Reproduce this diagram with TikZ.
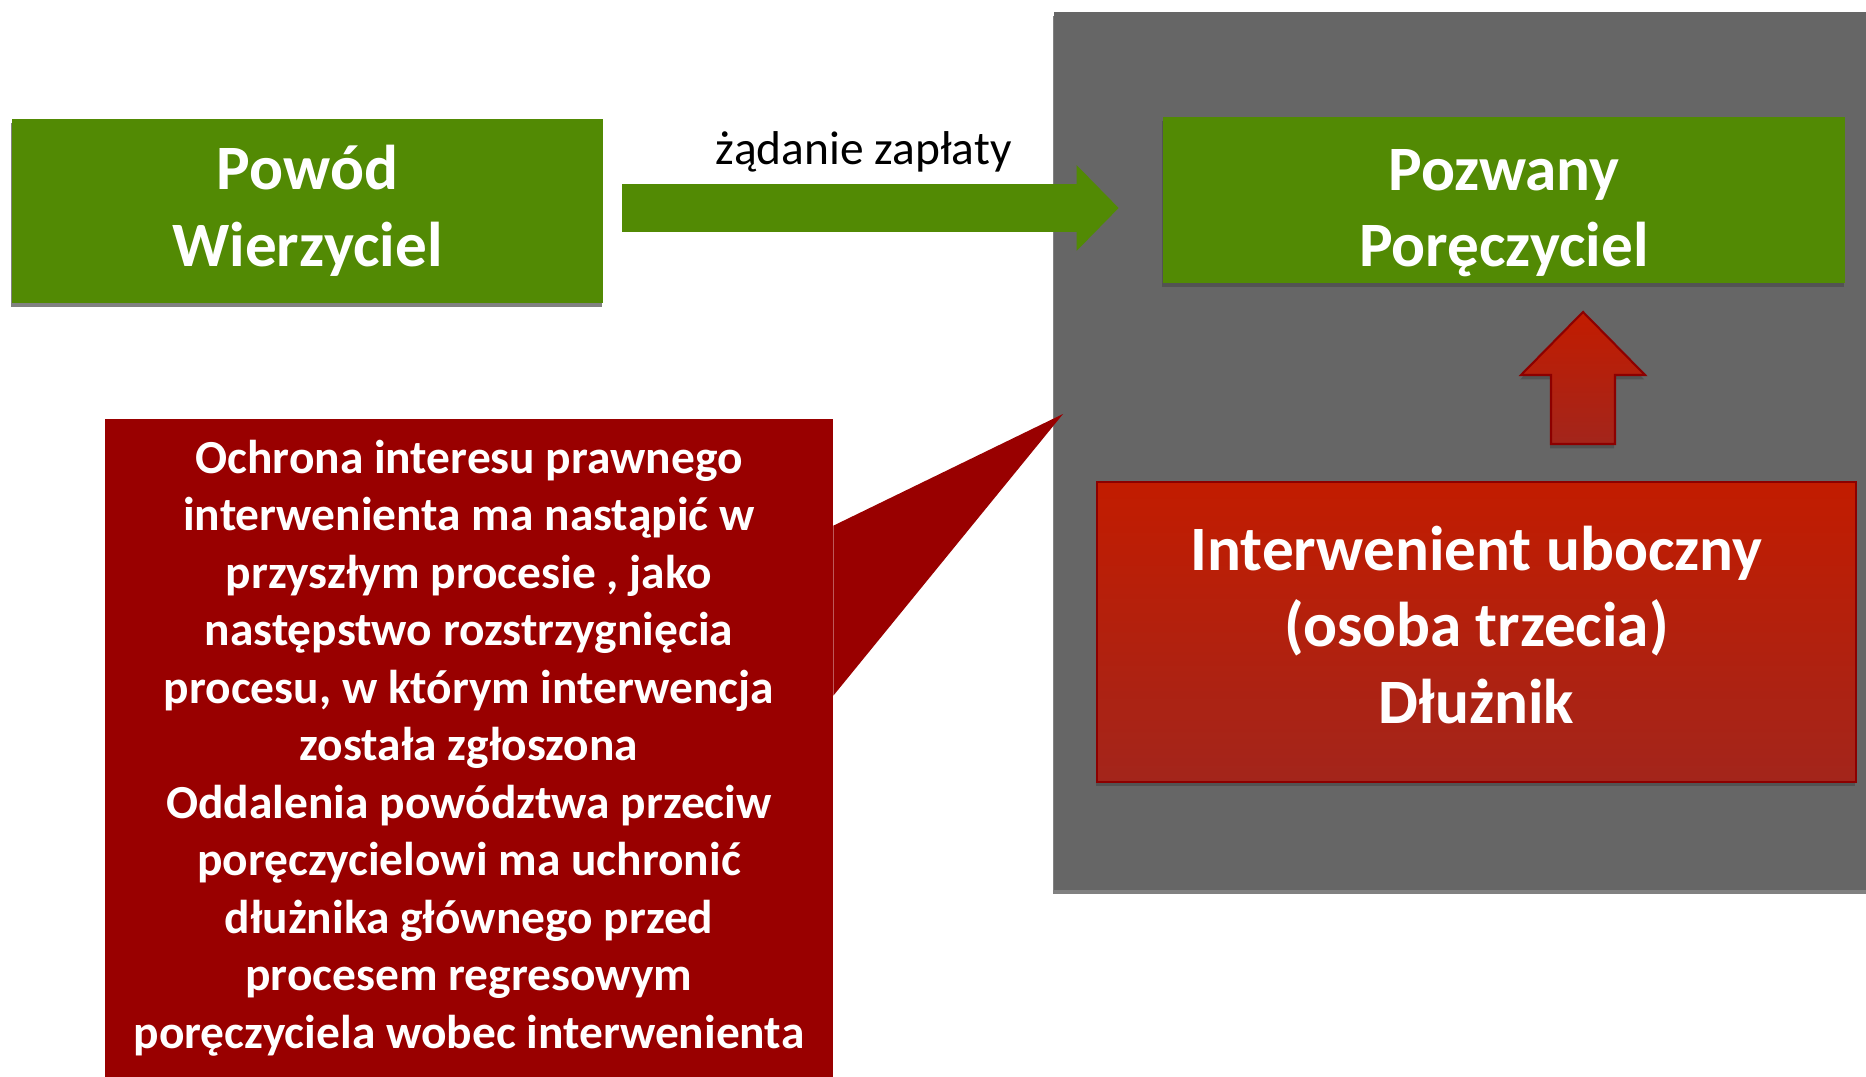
\documentclass[tikz,border=0pt]{standalone}
\usepackage{fontspec}
\setmainfont{Carlito}
\usetikzlibrary{arrows.meta,positioning,calc,shadows}
\definecolor{boxgreen}{RGB}{82,138,4}
\definecolor{panelgray}{RGB}{102,102,102}
\definecolor{notered}{RGB}{153,0,0}
\definecolor{redtop}{RGB}{194,28,0}
\definecolor{redbot}{RGB}{163,37,27}
\definecolor{redline}{RGB}{140,0,0}

\begin{document}
\begin{tikzpicture}[x=0.02cm,y=-0.02cm,
  shade/.style={drop shadow={opacity=0.7,fill=black!70,shadow xshift=-0.5pt,shadow yshift=-2.5pt}},
  partytext/.style={text=white,align=center,inner sep=0pt,
    font=\fontsize{36}{43.6}\selectfont\bfseries},
  party/.style={shade,fill=boxgreen,partytext},
  intv/.style={party,top color=redtop,bottom color=redbot,draw=redline,line width=1.2pt},
  panel/.style={shade,fill=panelgray,inner sep=0pt},
  note/.style={fill=notered,text=white,align=center,inner sep=0pt,
    font=\fontsize{27}{32.7}\selectfont\bfseries},
  flow/.style={draw=boxgreen,line width=0.96cm,-{Triangle[length=0.84cm,width=1.66cm]}},
  uparrow/.style={shade,top color=redtop,bottom color=redbot,draw=redline,line width=1.2pt}]
\useasboundingbox (0,0) rectangle (1866,1077);

% court side: defendant and intervener
\node[panel,minimum width=16.32cm,minimum height=17.56cm] (panel) at (1462,451) {};
\node[party,minimum width=11.82cm,minimum height=3.68cm] (powod) at (307.5,211) {Powód\\Wierzyciel};
\node[party,minimum width=13.64cm,minimum height=3.32cm] (pozwany) at (1504,200) {};
\node[partytext] at ($(pozwany.center)+(0,13)$) {Pozwany\\Poręczyciel};
\node[intv,minimum width=15.18cm,minimum height=6.0cm] (interw) at (1476.5,632) {};
\node[partytext] at ($(interw.center)+(0,-7)$) {Interwenient uboczny\\(osoba trzecia)\\Dłużnik};

\draw[flow] ($(powod.east)+(19,-3)$) -- node[xshift=-4pt,yshift=32pt,text=black,font=\fontsize{27}{32}\selectfont]{żądanie zapłaty}
  ($(powod.east -| pozwany.west)+(-44,-3)$);

\coordinate (upbase) at (1583,444);
\draw[uparrow] (upbase) ++(-32,0) -- ++(0,-69) -- ++(-30,0) -- ++(62,-63) -- ++(62,63) -- ++(-30,0) -- ++(0,69) -- cycle;

% callout with the explanation
\node[note,minimum width=14.56cm,minimum height=13.16cm] (note) at (469,748) {Ochrona interesu prawnego\\
  interwenienta ma nastąpić w\\przyszłym procesie , jako\\następstwo rozstrzygnięcia\\
  procesu, w którym interwencja\\została zgłoszona\\Oddalenia powództwa przeciw\\
  poręczycielowi ma uchronić\\dłużnika głównego przed\\procesem regresowym\\
  poręczyciela wobec interwenienta};
\fill[notered] ($(note.north east)+(0,107)$) -- (1063,414) -- ($(note.north east)+(0,277)$) -- cycle;
\end{tikzpicture}
\end{document}
